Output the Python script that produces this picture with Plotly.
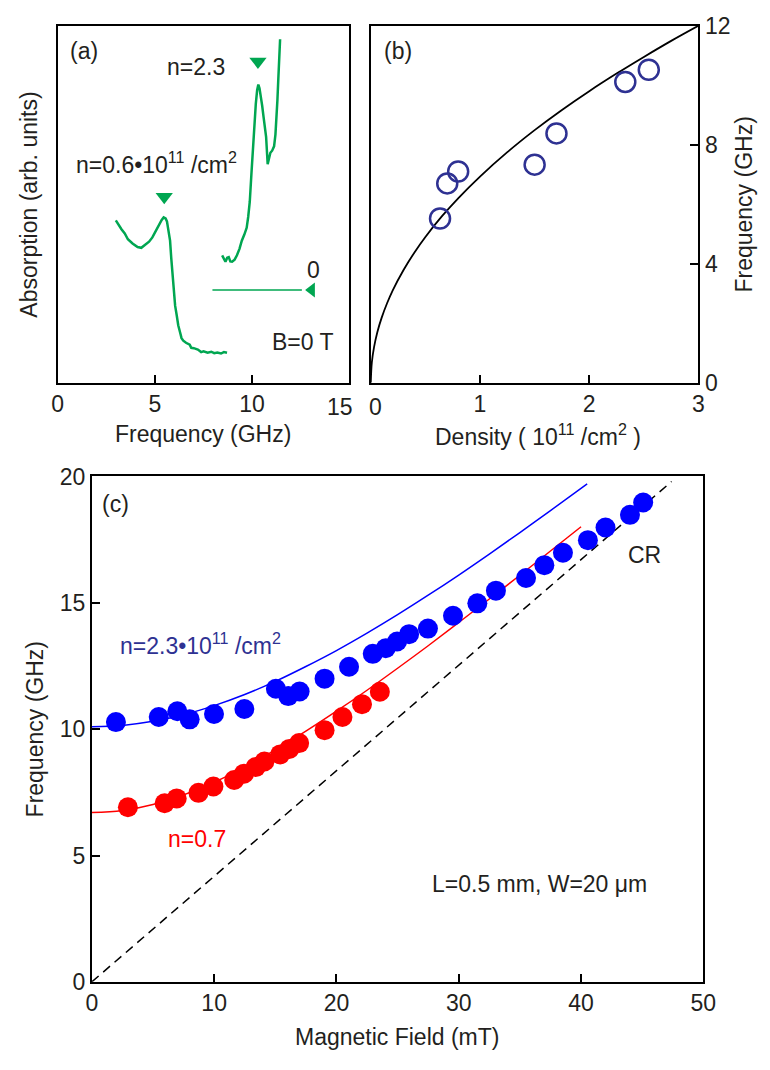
import plotly.graph_objects as go

W, H = 770, 1070
FONT = "Liberation Sans, Arial, sans-serif"
TXT = "#231F20"
GREEN = "#00A651"
NAVY = "#2E3192"
FS = 23

# ---------------- Panel (a): absorption spectra (arb. units) ----------------
a_low_freq = [2.99, 3.15, 3.28, 3.45, 3.61, 3.85, 4.11, 4.3, 4.53, 4.7, 4.87, 5.05, 5.2, 5.35, 5.45,
              5.55, 5.62, 5.7, 5.78, 5.84, 5.9, 5.97, 6.04, 6.12, 6.2, 6.3, 6.37, 6.46, 6.6, 6.79,
              6.87, 7.0, 7.21, 7.38, 7.5, 7.71, 7.9, 8.05, 8.21, 8.4, 8.55, 8.71]
a_low_abs = [0.455, 0.44, 0.43, 0.418, 0.402, 0.39, 0.38, 0.378, 0.387, 0.395, 0.407, 0.425, 0.443, 0.456, 0.463,
             0.46, 0.452, 0.43, 0.398, 0.35, 0.307, 0.26, 0.216, 0.19, 0.161, 0.14, 0.125, 0.118, 0.112, 0.107,
             0.098, 0.097, 0.093, 0.086, 0.088, 0.084, 0.087, 0.083, 0.085, 0.082, 0.086, 0.084]

a_high_freq = [8.46, 8.55, 8.63, 8.72, 8.8, 8.88, 8.97, 9.1, 9.22, 9.35, 9.47, 9.6, 9.72, 9.8, 9.88,
               9.97, 10.05, 10.12, 10.19, 10.26, 10.32, 10.38, 10.44, 10.52, 10.59, 10.66, 10.72, 10.8,
               10.87, 10.94, 11.03, 11.13, 11.2, 11.25, 11.3, 11.35, 11.4, 11.44]
a_high_abs = [0.357, 0.345, 0.339, 0.35, 0.352, 0.34, 0.339, 0.345, 0.357, 0.375, 0.398, 0.415, 0.434, 0.465, 0.507,
              0.59, 0.671, 0.73, 0.781, 0.82, 0.835, 0.825, 0.807, 0.775, 0.744, 0.715, 0.689, 0.612,
              0.63, 0.644, 0.65, 0.662, 0.695, 0.735, 0.79, 0.853, 0.91, 0.962]

a_peak_freq = [5.48, 10.3]
a_peak_abs = [0.521, 0.90]

a_zero_freq = [7.96, 12.56]
a_zero_abs = [0.26, 0.26]
a_zero_mark_freq = [13.06]
a_zero_mark_abs = [0.26]

a_ticks = [0, 5, 10, 15]
a_ticktext = ["0", "5", "10", ""]

# ---------------- Panel (b): plasmon frequency vs density ----------------
b_density = [0.634, 0.70, 0.80, 1.50, 1.70, 2.33, 2.545]
b_freq = [5.52, 6.70, 7.10, 7.33, 8.38, 10.11, 10.52]

b_curve_density = [0, 0.01, 0.03, 0.06, 0.1, 0.15, 0.2, 0.3, 0.4, 0.5, 0.65, 0.8, 1.0,
                   1.25, 1.5, 1.75, 2.0, 2.25, 2.5, 2.75, 3.0]
b_curve_freq = [0, 0.69, 1.2, 1.70, 2.19, 2.68, 3.10, 3.79, 4.38, 4.90, 5.59, 6.20, 6.93,
                7.75, 8.49, 9.17, 9.80, 10.39, 10.95, 11.49, 12.0]

b_xticks = [0, 1, 2, 3]
b_xticktext = ["", "1", "2", "3"]
b_yticks = [0, 4, 8, 12]

# ---------------- Panel (c): frequency vs magnetic field ----------------
c_blue_B = [1.97, 5.47, 6.99, 8.0, 9.99, 12.47, 15.05, 16.06, 16.99, 19.03, 21.03, 22.97, 24.03,
            24.96, 25.94, 27.48, 29.53, 31.52, 33.04, 35.5, 37.0, 38.52, 40.56, 42.0, 44.0, 45.08]
c_blue_f = [10.28, 10.48, 10.71, 10.39, 10.6, 10.8, 11.6, 11.31, 11.49, 12.0, 12.47, 12.98, 13.2,
            13.47, 13.76, 13.98, 14.49, 14.98, 15.48, 15.98, 16.49, 16.98, 17.48, 17.98, 18.48, 18.97]

c_red_B = [2.95, 5.95, 6.94, 8.72, 9.94, 11.64, 12.44, 13.4, 14.11, 15.4, 16.15, 16.95,
           19.03, 20.49, 22.09, 23.55]
c_red_f = [6.91, 7.07, 7.26, 7.48, 7.73, 7.99, 8.24, 8.5, 8.72, 9.0, 9.22, 9.45,
           9.96, 10.48, 10.99, 11.48]

c_blue_fit_B = [0, 2.5, 5, 7.5, 10, 12.5, 15, 17.5, 20, 22.5, 25, 27.5, 30, 32.5, 35, 37.5, 40.5]
c_blue_fit_f = [10.1, 10.15, 10.31, 10.57, 10.93, 11.37, 11.89, 12.48, 13.11, 13.8, 14.53,
                15.3, 16.1, 16.93, 17.78, 18.65, 19.71]

c_red_fit_B = [0, 2.5, 5, 7.5, 10, 12.5, 15, 17.5, 20, 22.5, 25, 27.5, 30, 32.5, 35, 37.5, 40]
c_red_fit_f = [6.7, 6.78, 7.02, 7.4, 7.9, 8.5, 9.18, 9.92, 10.71, 11.54, 12.41, 13.3,
               14.22, 15.15, 16.09, 17.05, 18.01]

c_cr_B = [0, 47.4]
c_cr_f = [0, 19.8]

c_xticks = [0, 10, 20, 30, 40, 50]
c_yticks = [0, 5, 10, 15, 20]


def px(x):
    return x / W


def py(y):
    return 1 - y / H


fig = go.Figure()

# Panel (a)
fig.add_trace(go.Scatter(x=a_low_freq, y=a_low_abs, mode="lines",
                         line=dict(color=GREEN, width=2.5), xaxis="x", yaxis="y"))
fig.add_trace(go.Scatter(x=a_high_freq, y=a_high_abs, mode="lines",
                         line=dict(color=GREEN, width=2.5), xaxis="x", yaxis="y"))
fig.add_trace(go.Scatter(x=a_peak_freq, y=a_peak_abs, mode="markers",
                         marker=dict(symbol="triangle-down", size=15, color=GREEN),
                         xaxis="x", yaxis="y"))
fig.add_trace(go.Scatter(x=a_zero_freq, y=a_zero_abs, mode="lines",
                         line=dict(color=GREEN, width=1.5), xaxis="x", yaxis="y"))
fig.add_trace(go.Scatter(x=a_zero_mark_freq, y=a_zero_mark_abs, mode="markers",
                         marker=dict(symbol="triangle-left", size=13, color=GREEN),
                         xaxis="x", yaxis="y"))

# Panel (b)
fig.add_trace(go.Scatter(x=b_curve_density, y=b_curve_freq, mode="lines", line_shape="spline",
                         line=dict(color="black", width=1.8), xaxis="x2", yaxis="y2"))
fig.add_trace(go.Scatter(x=b_density, y=b_freq, mode="markers",
                         marker=dict(symbol="circle-open", size=20, color=NAVY,
                                     line=dict(color=NAVY, width=2.5)),
                         xaxis="x2", yaxis="y2"))

# Panel (c)
fig.add_trace(go.Scatter(x=c_cr_B, y=c_cr_f, mode="lines",
                         line=dict(color="black", width=1.5, dash="9px,6px"), xaxis="x3", yaxis="y3"))
fig.add_trace(go.Scatter(x=c_blue_fit_B, y=c_blue_fit_f, mode="lines", line_shape="spline",
                         line=dict(color="#0000FF", width=1.5), xaxis="x3", yaxis="y3"))
fig.add_trace(go.Scatter(x=c_red_fit_B, y=c_red_fit_f, mode="lines", line_shape="spline",
                         line=dict(color="#FF0000", width=1.5), xaxis="x3", yaxis="y3"))
fig.add_trace(go.Scatter(x=c_blue_B, y=c_blue_f, mode="markers",
                         marker=dict(symbol="circle", size=20, color="#0000FF"),
                         xaxis="x3", yaxis="y3"))
fig.add_trace(go.Scatter(x=c_red_B, y=c_red_f, mode="markers",
                         marker=dict(symbol="circle", size=20, color="#FF0000"),
                         xaxis="x3", yaxis="y3"))

axis_common = dict(showline=True, linecolor="black", linewidth=2, mirror=True,
                   ticks="inside", ticklen=8, tickwidth=2, tickcolor="black",
                   showgrid=False, zeroline=False,
                   tickfont=dict(family=FONT, size=FS, color=TXT))

fig.update_layout(
    width=W, height=H, autosize=False,
    margin=dict(l=0, r=0, t=0, b=0),
    paper_bgcolor="white", plot_bgcolor="white",
    showlegend=False,
    xaxis=dict(domain=[px(53), px(352)], range=[0, 15], tickvals=a_ticks, ticktext=a_ticktext,
               anchor="y", **axis_common),
    yaxis=dict(domain=[py(379), py(13)], range=[0, 1], anchor="x",
               showline=True, linecolor="black", linewidth=2, mirror=True,
               ticks="", showticklabels=False, showgrid=False, zeroline=False),
    xaxis2=dict(domain=[px(374), px(710)], range=[0, 3], tickvals=b_xticks, ticktext=b_xticktext,
                anchor="y2", **axis_common),
    yaxis2=dict(domain=[py(379), py(13)], range=[0, 12], tickvals=b_yticks,
                anchor="x2", side="right", **axis_common),
    xaxis3=dict(domain=[px(88), px(715)], range=[0, 50], tickvals=c_xticks,
                anchor="y3", **axis_common),
    yaxis3=dict(domain=[py(993), py(475)], range=[0, 20], tickvals=c_yticks,
                anchor="x3", **axis_common),
)


def note(text, x, y, size=FS, color=TXT, xanchor="center", angle=0):
    fig.add_annotation(text=text, x=px(x), y=py(y), xref="paper", yref="paper",
                       showarrow=False, xanchor=xanchor, yanchor="middle",
                       textangle=angle, font=dict(family=FONT, size=size, color=color))


# Edge tick labels nudged inward (as in the reference) to avoid collision
note("15", 342, 404)
note("0", 379, 404)

# Panel (a) texts
note("(a)", 80, 39)
note("n=2.3", 163, 55, xanchor="left")
note("n=0.6•10<sup>11</sup> /cm<sup>2</sup>", 70, 154, xanchor="left")
note("0", 315, 263)
note("B=0 T", 271, 337, xanchor="left")
note("Absorption (arb. units)", 24, 196, angle=-90)
note("Frequency (GHz)", 202, 431)

# Panel (b) texts
note("(b)", 402, 39)
note("Density ( 10<sup>11</sup> /cm<sup>2</sup> )", 545, 432)
note("Frequency (GHz)", 757, 196, angle=-90)

# Panel (c) texts
note("(c)", 112, 503)
note("n=2.3•10<sup>11</sup> /cm<sup>2</sup>", 115, 647, color=NAVY, xanchor="left")
note("n=0.7", 164, 847, color="#FF0000", xanchor="left")
note("CR", 655, 555)
note("L=0.5 mm, W=20 μm", 435, 893, xanchor="left")
note("Frequency (GHz)", 30, 734, angle=-90)
note("Magnetic Field (mT)", 401, 1050)

fig.write_html("out.html")
